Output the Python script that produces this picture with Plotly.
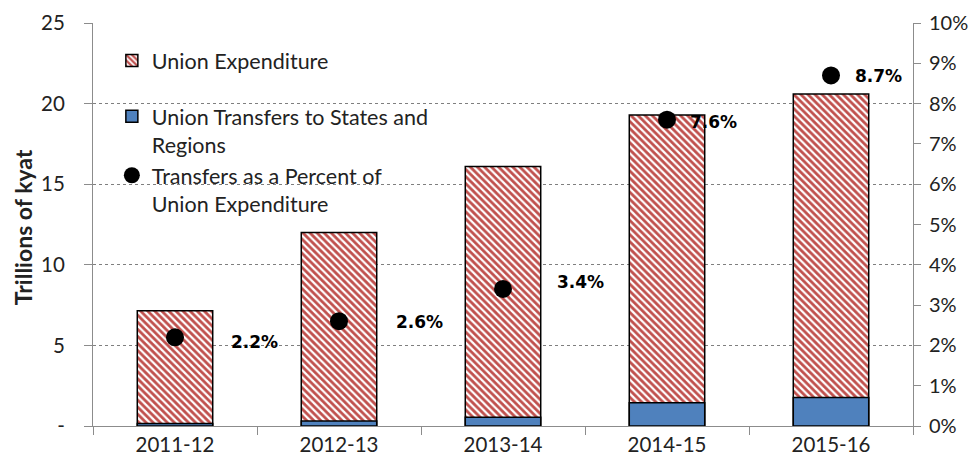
import plotly.graph_objects as go

years = ["2011-12", "2012-13", "2013-14", "2014-15", "2015-16"]
union_expenditure = [7.15, 12.0, 16.1, 19.3, 20.6]
union_transfers = [0.16, 0.31, 0.55, 1.45, 1.77]
transfer_pct = [0.022, 0.026, 0.034, 0.076, 0.087]
pct_labels = ["2.2%", "2.6%", "3.4%", "7.6%", "8.7%"]

left_ticks = [0, 5, 10, 15, 20, 25]
left_ticktext = ["-", "5", "10", "15", "20", "25"]

# label placement (pixels), matching the hand-moved labels in the source chart
label_dx = [54, 55, 52, 21, 22]
label_dy = [-5, -1, 7, -2, -1]

FONT = "Lato"
RED = "#C0504D"
BLUE = "#4F81BD"
AXIS = "#8C8C8C"
TICK_SIZE = 20.5

fig = go.Figure()
fig.add_trace(go.Bar(
    x=years, y=union_expenditure, name="Union Expenditure",
    width=0.46, legendgroup="a",
    marker=dict(color="white",
                pattern=dict(shape="\\", fgcolor=RED, bgcolor="white", fgopacity=1,
                             size=5, solidity=0.55),
                line=dict(color="black", width=1.5)),
))
fig.add_trace(go.Bar(
    x=years, y=union_transfers, name="Union Transfers to States and<br>Regions",
    width=0.46, legendgroup="b",
    marker=dict(color=BLUE, line=dict(color="black", width=1.5)),
))
fig.add_trace(go.Scatter(
    x=years, y=transfer_pct, yaxis="y2", mode="markers",
    name="Transfers as a Percent of<br>Union Expenditure", legendgroup="b",
    marker=dict(color="black", size=18),
))

for yr, p, txt, dx, dy in zip(years, transfer_pct, pct_labels, label_dx, label_dy):
    fig.add_annotation(x=yr, y=p, xref="x", yref="y2", text="<b>%s</b>" % txt,
                       showarrow=False, xanchor="left", xshift=dx, yshift=dy,
                       font=dict(family="DejaVu Sans", size=17, color="black"))

fig.add_annotation(x=-0.085, y=0.494, xref="paper", yref="paper", textangle=-90,
                   xanchor="center", yanchor="middle",
                   text="<b>Trillions of kyat</b>", showarrow=False,
                   font=dict(family=FONT, size=23, color="#222222"))

# page body has an 8px margin, so the figure is a bit smaller than the window
fig.update_layout(
    width=970, height=456,
    margin=dict(l=85, r=65, t=15, b=38),
    paper_bgcolor="white", plot_bgcolor="white",
    barmode="overlay",
    font=dict(family=FONT, size=TICK_SIZE, color="#222222"),
    showlegend=True,
    legend=dict(x=0.023, y=0.958, xanchor="left", yanchor="top",
                traceorder="grouped", tracegroupgap=25, valign="top",
                bgcolor="rgba(0,0,0,0)", font=dict(family=FONT, size=21.5, color="#222222")),
    xaxis=dict(type="category", showline=True, linecolor=AXIS, linewidth=1,
               ticks="outside", tickson="boundaries", ticklen=8, tickcolor=AXIS,
               showgrid=False, automargin=False, tickfont=dict(size=TICK_SIZE)),
    yaxis=dict(range=[0, 25], tickvals=left_ticks, ticktext=left_ticktext,
               showline=True, linecolor=AXIS, linewidth=1, ticks="outside",
               ticklen=8, tickcolor=AXIS, showgrid=True, gridcolor="#7F7F7F",
               griddash="dot", gridwidth=1, zeroline=False, automargin=False,
               ticklabelstandoff=15, tickfont=dict(size=TICK_SIZE)),
    yaxis2=dict(range=[0, 0.10], dtick=0.01, tickformat=".0%", overlaying="y",
                side="right", showline=True, linecolor=AXIS, linewidth=1,
                ticks="outside", ticklen=7, tickcolor=AXIS, showgrid=False,
                zeroline=False, automargin=False, ticklabelstandoff=4,
                tickfont=dict(size=20)),
)

fig.write_html("out.html")
